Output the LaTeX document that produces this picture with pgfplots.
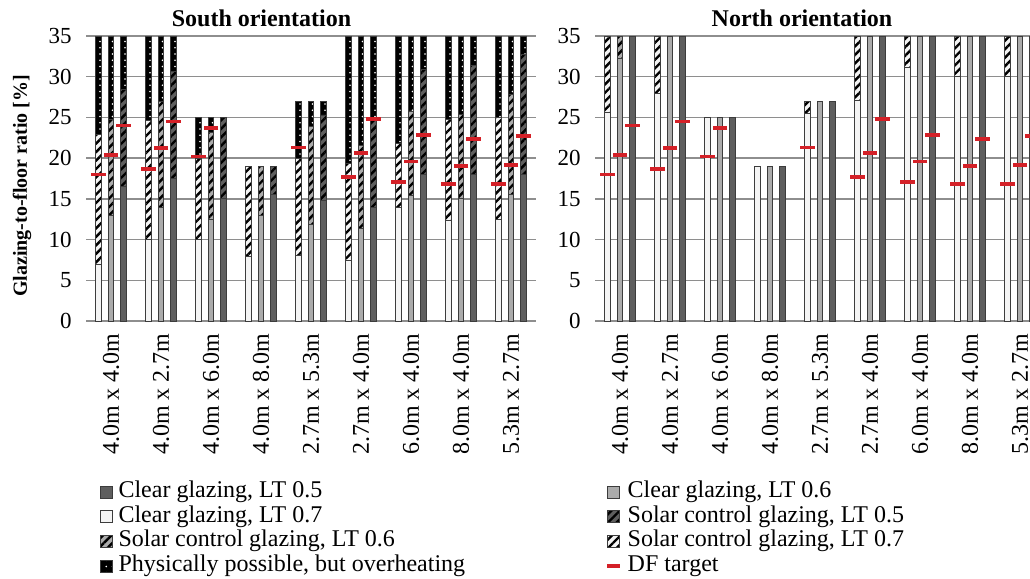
\documentclass[border=0pt]{standalone}
\usepackage{fontspec}
\setmainfont{Liberation Serif}
\usepackage{pgfplots}
\pgfplotsset{compat=1.18}
\usetikzlibrary{patterns.meta}

\definecolor{barW}{HTML}{F4F4F4}
\definecolor{barL}{HTML}{ABABAB}
\definecolor{barD}{HTML}{5E5E5E}
\definecolor{edge}{HTML}{3C3C3C}
\definecolor{dfred}{HTML}{D42027}
\definecolor{gridc}{HTML}{8E8E8E}

\newcommand\fs{\fontsize{11.5}{13.8}\selectfont}
\newcommand\fl{\fontsize{12}{14.4}\selectfont}

\tikzset{
  hatchpat/.style={postaction={pattern={Lines[angle=45,distance=3pt,line width=1.2pt]}, pattern color=black}},
  dotpat/.style={postaction={pattern={Dots[distance=3.125pt,radius=0.45pt]}, pattern color=white}},
}

\pgfplotsset{
  gbar/.style={ybar, bar width=2.75pt, bar shift=0pt, draw=edge, line width=0.4pt, forget plot},
  sbar/.style={gbar, fill=#1},
  hbar/.style={gbar, fill=#1, hatchpat},
  obar/.style={gbar, fill=black, dotpat},
  dft/.style={only marks, mark=-, mark size=3.7pt, color=dfred, mark options={line width=1.9pt}, forget plot},
  sqleg/.style={legend image code/.code={\draw[##1] (0pt,-3pt) rectangle (6pt,3pt);}},
  panel/.style={
    scale only axis, width=225pt, height=142.5pt, anchor=south west,
    xmin=-0.5, xmax=8.5, ymin=0, ymax=35,
    xtick={0,...,8},
    xticklabels={4.0m x 4.0m, 4.0m x 2.7m, 4.0m x 6.0m, 4.0m x 8.0m, 2.7m x 5.3m,
                 2.7m x 4.0m, 6.0m x 4.0m, 8.0m x 4.0m, 5.3m x 2.7m},
    ytick={0,5,...,35},
    ymajorgrids, major grid style={draw=gridc, line width=0.7pt},
    axis line style={draw=none}, major tick length=0pt,
    yticklabel style={font=\fs, inner sep=0pt, anchor=east},
    /pgf/number format/assume math mode=true,
    xticklabel style={font=\fl, rotate=90, anchor=east, inner sep=0pt},
    xticklabel shift=6pt,
    yticklabel shift=7pt,
    title style={font=\bfseries\fontsize{12}{14}\selectfont, anchor=base, yshift=-1pt},
    legend cell align=left,
    legend style={draw=none, fill=none, anchor=north west, inner sep=0pt,
      row sep=0.3pt, column sep=2.2pt,
      nodes={inner sep=0.5pt, text height=8.3pt, text depth=2.7pt, font=\fl}},
  },
}

\begin{document}
\begin{tikzpicture}
% ---- south ----
\begin{axis}[panel, at={(43pt,129pt)},
  title={South orientation}, title style={at={(axis description cs:0.39,1)}},
  ylabel={Glazing-to-floor ratio [\%]},
  ylabel style={font=\bfseries\fontsize{10}{12}\selectfont, at={(axis description cs:-0.142,0.474)}, anchor=center},
  legend style={at={(axis description cs:0.031,-0.557)}}]
% LT 0.7 (white)
\addplot[obar] coordinates {(-0.25,35) (0.75,35) (1.75,25) (3.75,27) (4.75,35) (5.75,35) (6.75,35) (7.75,35)};
\addplot[hbar=barW] coordinates {(-0.25,22.9) (0.75,24.6) (1.75,20) (2.75,19) (3.75,20) (4.75,19.4) (5.75,21.8) (6.75,24.8) (7.75,25)};
\addplot[sbar=barW] coordinates {(-0.25,7) (0.75,10) (1.75,10) (2.75,7.9) (3.75,8) (4.75,7.5) (5.75,14) (6.75,12.4) (7.75,12.5)};
% LT 0.6 (light)
\addplot[obar] coordinates {(0,35) (1,35) (2,25) (4,27) (5,35) (6,35) (7,35) (8,35)};
\addplot[hbar=barL] coordinates {(0,24.8) (1,27) (2,23.2) (3,19) (4,23.9) (5,21.6) (6,25.8) (7,25.4) (8,27.8)};
\addplot[sbar=barL] coordinates {(0,13) (1,13.9) (2,12.5) (3,13) (4,11.9) (5,11.4) (6,15.4) (7,15) (8,15.5)};
% LT 0.5 (dark)
\addplot[obar] coordinates {(0.25,35) (1.25,35) (4.25,27) (5.25,35) (6.25,35) (7.25,35) (8.25,35)};
\addplot[hbar=barD] coordinates {(0.25,28.4) (1.25,30.7) (2.25,25) (3.25,19) (4.25,25.3) (5.25,24.9) (6.25,30.9) (7.25,31.4) (8.25,32.7)};
\addplot[sbar=barD] coordinates {(0.25,16.5) (1.25,17.5) (2.25,15) (3.25,15.5) (4.25,14.75) (5.25,14) (6.25,18) (7.25,18) (8.25,18)};
% DF target
\addplot[dft] coordinates {(-0.25,18) (0.75,18.7) (1.75,20.2) (3.75,21.3) (4.75,17.7) (5.75,17.1) (6.75,16.8) (7.75,16.8)
  (0,20.35) (1,21.2) (2,23.7) (5,20.6) (6,19.6) (7,19) (8,19.2)
  (0.25,24) (1.25,24.5) (5.25,24.8) (6.25,22.8) (7.25,22.4) (8.25,22.7)};
\addlegendimage{sqleg, fill=barD, draw=edge}
\addlegendentry{Clear glazing, LT 0.5}
\addlegendimage{sqleg, fill=barW, draw=edge}
\addlegendentry{Clear glazing, LT 0.7}
\addlegendimage{sqleg, fill=barL, draw=edge, hatchpat}
\addlegendentry{Solar control glazing, LT 0.6}
\addlegendimage{sqleg, fill=black, draw=edge, dotpat}
\addlegendentry{Physically possible, but overheating}
\end{axis}
% ---- north ----
\begin{axis}[panel, at={(297.5pt,129pt)},
  title={North orientation}, title style={at={(axis description cs:0.46,1)}},
  legend style={at={(axis description cs:0.022,-0.557)}}]
\addplot[hbar=barW] coordinates {(-0.25,35) (0.75,35) (3.75,27) (4.75,35) (5.75,35) (6.75,35) (7.75,35)};
\addplot[sbar=barW] coordinates {(-0.25,25.6) (0.75,28) (1.75,25) (2.75,19) (3.75,25.5) (4.75,27.1) (5.75,31.1) (6.75,30) (7.75,30.1)};
\addplot[hbar=barL] coordinates {(0,35)};
\addplot[sbar=barL] coordinates {(0,32.2) (1,35) (2,25) (3,19) (4,27) (5,35) (6,35) (7,35) (8,35)};
\addplot[sbar=barD] coordinates {(0.25,35) (1.25,35) (2.25,25) (3.25,19) (4.25,27) (5.25,35) (6.25,35) (7.25,35) (8.25,35)};
\addplot[dft] coordinates {(-0.25,18) (0.75,18.7) (1.75,20.2) (3.75,21.3) (4.75,17.7) (5.75,17.1) (6.75,16.8) (7.75,16.8)
  (0,20.35) (1,21.2) (2,23.7) (5,20.6) (6,19.6) (7,19) (8,19.2)
  (0.25,24) (1.25,24.5) (5.25,24.8) (6.25,22.8) (7.25,22.4) (8.25,22.7)};
\addlegendimage{sqleg, fill=barL, draw=edge}
\addlegendentry{Clear glazing, LT 0.6}
\addlegendimage{sqleg, fill=barD, draw=edge, hatchpat}
\addlegendentry{Solar control glazing, LT 0.5}
\addlegendimage{sqleg, fill=barW, draw=edge, hatchpat}
\addlegendentry{Solar control glazing, LT 0.7}
\addlegendimage{legend image code/.code={\draw[dfred, line width=2pt] (0pt,0pt) -- (6.5pt,0pt);}}
\addlegendentry{DF target}
\end{axis}
\pgfresetboundingbox
\useasboundingbox (0,0) rectangle (515pt,289.5pt);
\end{tikzpicture}
\end{document}
